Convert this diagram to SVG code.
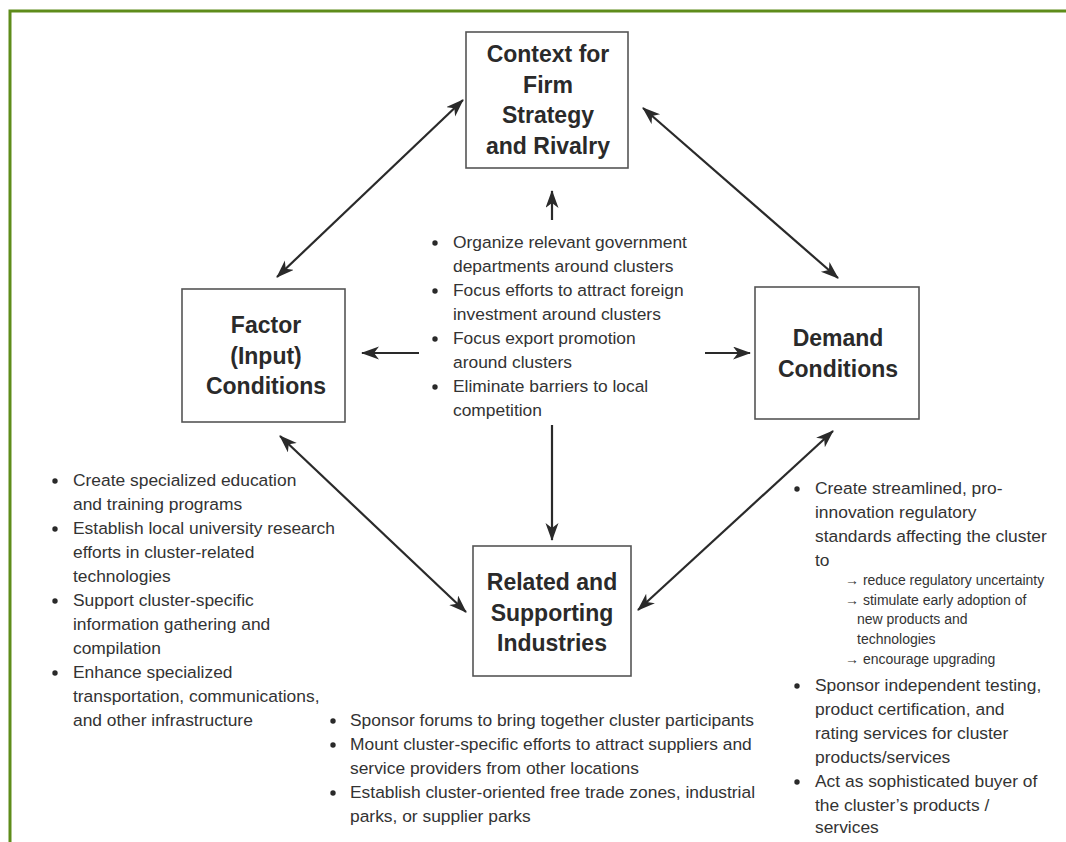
<svg xmlns="http://www.w3.org/2000/svg" width="1066" height="842" viewBox="0 0 1066 842">
<style>
.box{fill:#fff;stroke:#555;stroke-width:1.6}
.title{font-family:"Liberation Sans",Arial,sans-serif;font-weight:bold;font-size:23px;fill:#2a2a2a;text-anchor:middle}
.t{font-family:"Liberation Sans",Arial,sans-serif;font-size:17.4px;fill:#333}
.s{font-family:"Liberation Sans",Arial,sans-serif;font-size:14px;fill:#333}
.line{stroke:#2a2a2a;stroke-width:2.2;fill:none}
.b{fill:#2a2a2a}
</style>
<defs>
<marker id="ah" markerUnits="userSpaceOnUse" markerWidth="20" markerHeight="14" refX="17" refY="6.5" orient="auto-start-reverse">
<path d="M0,0 L18,6.5 L0,13 L5,6.5 z" fill="#2a2a2a"/>
</marker>
</defs>
<rect width="1066" height="842" fill="#fff"/>
<polyline points="10,842 10,11 1066,11" fill="none" stroke="#5e8c1a" stroke-width="3"/>

<g id="connectors">
<line class="line" x1="463" y1="100" x2="277" y2="277" marker-start="url(#ah)" marker-end="url(#ah)"/>
<line class="line" x1="643" y1="108" x2="838" y2="278" marker-start="url(#ah)" marker-end="url(#ah)"/>
<line class="line" x1="280" y1="436" x2="466" y2="612" marker-start="url(#ah)" marker-end="url(#ah)"/>
<line class="line" x1="833" y1="431" x2="638" y2="610" marker-start="url(#ah)" marker-end="url(#ah)"/>
<line class="line" x1="552" y1="220" x2="552" y2="191" marker-end="url(#ah)"/>
<line class="line" x1="419" y1="353" x2="362" y2="353" marker-end="url(#ah)"/>
<line class="line" x1="705" y1="353" x2="750" y2="353" marker-end="url(#ah)"/>
<line class="line" x1="552" y1="425" x2="552" y2="540" marker-end="url(#ah)"/>
</g>

<g id="context">
<rect class="box" x="466" y="32" width="162" height="136"/>
<text class="title" x="548" y="62">Context for</text>
<text class="title" x="548" y="93">Firm</text>
<text class="title" x="548" y="123">Strategy</text>
<text class="title" x="548" y="154">and Rivalry</text>
</g>

<g id="factor">
<rect class="box" x="182" y="289" width="163" height="133"/>
<text class="title" x="266" y="333">Factor</text>
<text class="title" x="266" y="364">(Input)</text>
<text class="title" x="266" y="394">Conditions</text>
</g>

<g id="demand">
<rect class="box" x="755" y="287" width="164" height="132"/>
<text class="title" x="838" y="346">Demand</text>
<text class="title" x="838" y="377">Conditions</text>
</g>

<g id="related">
<rect class="box" x="473" y="546" width="158" height="130"/>
<text class="title" x="552" y="590">Related and</text>
<text class="title" x="552" y="621">Supporting</text>
<text class="title" x="552" y="651">Industries</text>
</g>

<g id="center-text">
<circle class="b" cx="435" cy="243" r="2.7"/><text class="t" x="453" y="248">Organize relevant government</text>
<text class="t" x="453" y="272">departments around clusters</text>
<circle class="b" cx="435" cy="291" r="2.7"/><text class="t" x="453" y="296">Focus efforts to attract foreign</text>
<text class="t" x="453" y="320">investment around clusters</text>
<circle class="b" cx="435" cy="339" r="2.7"/><text class="t" x="453" y="344">Focus export promotion</text>
<text class="t" x="453" y="368">around clusters</text>
<circle class="b" cx="435" cy="387" r="2.7"/><text class="t" x="453" y="392">Eliminate barriers to local</text>
<text class="t" x="453" y="416">competition</text>
</g>

<g id="factor-text">
<circle class="b" cx="55" cy="481" r="2.7"/><text class="t" x="73" y="486">Create specialized education</text>
<text class="t" x="73" y="510">and training programs</text>
<circle class="b" cx="55" cy="529" r="2.7"/><text class="t" x="73" y="534">Establish local university research</text>
<text class="t" x="73" y="558">efforts in cluster-related</text>
<text class="t" x="73" y="582">technologies</text>
<circle class="b" cx="55" cy="601" r="2.7"/><text class="t" x="73" y="606">Support cluster-specific</text>
<text class="t" x="73" y="630">information gathering and</text>
<text class="t" x="73" y="654">compilation</text>
<circle class="b" cx="55" cy="673" r="2.7"/><text class="t" x="73" y="678">Enhance specialized</text>
<text class="t" x="73" y="702">transportation, communications,</text>
<text class="t" x="73" y="726">and other infrastructure</text>
</g>

<g id="related-text">
<circle class="b" cx="333" cy="721" r="2.7"/><text class="t" x="350" y="726">Sponsor forums to bring together cluster participants</text>
<circle class="b" cx="333" cy="745" r="2.7"/><text class="t" x="350" y="750">Mount cluster-specific efforts to attract suppliers and</text>
<text class="t" x="350" y="774">service providers from other locations</text>
<circle class="b" cx="333" cy="793" r="2.7"/><text class="t" x="350" y="798">Establish cluster-oriented free trade zones, industrial</text>
<text class="t" x="350" y="822">parks, or supplier parks</text>
</g>

<g id="demand-text">
<circle class="b" cx="797" cy="489" r="2.7"/><text class="t" x="815" y="494">Create streamlined, pro-</text>
<text class="t" x="815" y="518">innovation regulatory</text>
<text class="t" x="815" y="542">standards affecting the cluster</text>
<text class="t" x="815" y="566">to</text>
<text class="s" x="845" y="585">→ reduce regulatory uncertainty</text>
<text class="s" x="845" y="605">→ stimulate early adoption of</text>
<text class="s" x="857" y="624">new products and</text>
<text class="s" x="857" y="644">technologies</text>
<text class="s" x="845" y="664">→ encourage upgrading</text>
<circle class="b" cx="797" cy="686" r="2.7"/><text class="t" x="815" y="691">Sponsor independent testing,</text>
<text class="t" x="815" y="715">product certification, and</text>
<text class="t" x="815" y="739">rating services for cluster</text>
<text class="t" x="815" y="763">products/services</text>
<circle class="b" cx="797" cy="782" r="2.7"/><text class="t" x="815" y="787">Act as sophisticated buyer of</text>
<text class="t" x="815" y="811">the cluster’s products /</text>
<text class="t" x="815" y="833">services</text>
</g>
</svg>
